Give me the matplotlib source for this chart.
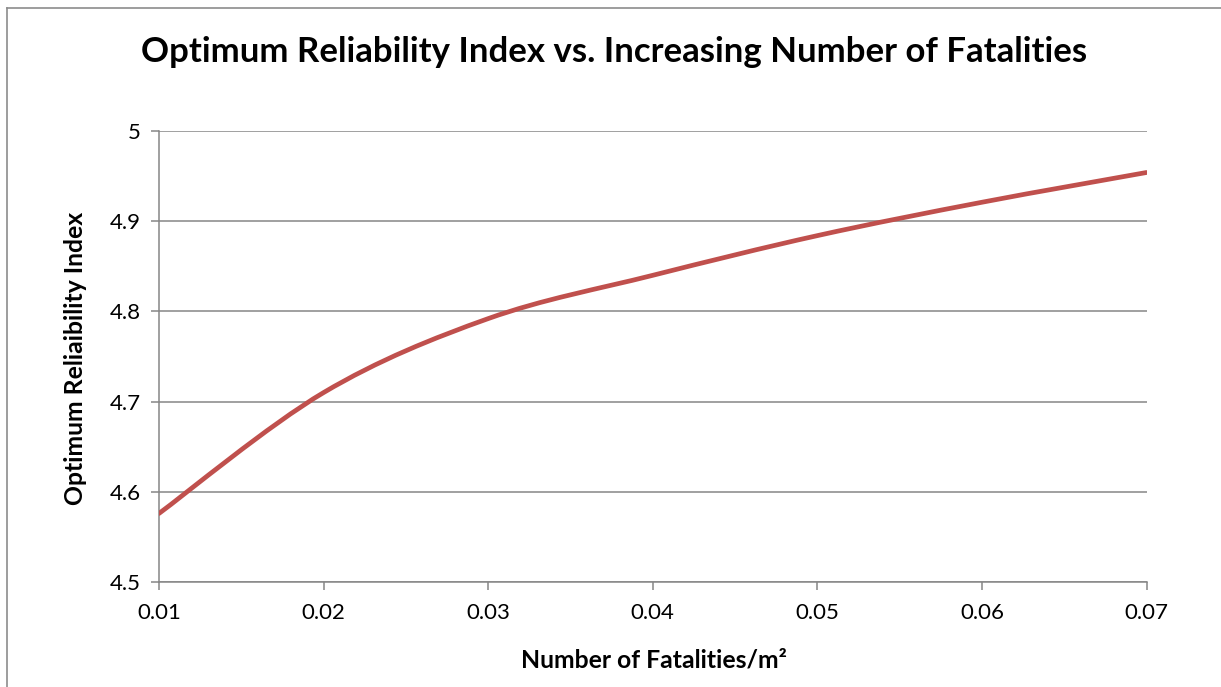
import numpy as np
import matplotlib
matplotlib.use("Agg")
import matplotlib.pyplot as plt
from matplotlib.path import Path
from matplotlib.patches import PathPatch
from matplotlib.lines import Line2D

# Optimum reliability index for each fatality density
fatalities = [0.01, 0.02, 0.03, 0.04, 0.05, 0.06, 0.07]
reliability = [4.576, 4.710, 4.792, 4.840, 4.884, 4.921, 4.954]
x_ticks = [0.01, 0.02, 0.03, 0.04, 0.05, 0.06, 0.07]
x_tick_labels = ["0.01", "0.02", "0.03", "0.04", "0.05", "0.06", "0.07"]
y_ticks = [4.5, 4.6, 4.7, 4.8, 4.9, 5.0]
y_tick_labels = ["4.5", "4.6", "4.7", "4.8", "4.9", "5"]

FONT = "Lato"
LINE_RED = "#C0504D"
GRID_GREY = "#868686"

plt.rcParams["font.family"] = [FONT, "DejaVu Sans"]

W, H = 1221, 687
fig = plt.figure(figsize=(W / 100, H / 100), dpi=100)
fig.patch.set_facecolor("white")

# chart-area frame: left and top edges
frame_x = 6.5 / W
frame_y = 1 - 7.5 / H
fig.add_artist(Line2D([frame_x, frame_x], [0, frame_y], transform=fig.transFigure,
                      color="#8c8c8c", linewidth=1.2))
fig.add_artist(Line2D([frame_x, 1], [frame_y, frame_y], transform=fig.transFigure,
                      color="#8c8c8c", linewidth=1.2))

ax = fig.add_axes([159 / W, 1 - 582 / H, (1146.5 - 159) / W, (582 - 131) / H])
ax.set_xlim(0.01, 0.07)
ax.set_ylim(4.5, 5.0)


def smooth_path(xs, ys):
    """Cubic Bezier segments through the points (spreadsheet-style smoothing)."""
    pts = np.column_stack([xs, ys])
    n = len(pts)
    verts = [pts[0]]
    codes = [Path.MOVETO]
    for i in range(n - 1):
        p0 = pts[i - 1] if i > 0 else pts[i]
        p1 = pts[i]
        p2 = pts[i + 1]
        p3 = pts[i + 2] if i + 2 < n else pts[i + 1]
        c1 = p1 + (p2 - p0) / 6.0
        c2 = p2 - (p3 - p1) / 6.0
        verts += [c1, c2, p2]
        codes += [Path.CURVE4] * 3
    return Path(verts, codes)


ax.add_patch(PathPatch(smooth_path(fatalities, reliability), facecolor="none",
                       edgecolor=LINE_RED, linewidth=3.4, capstyle="round",
                       joinstyle="round", zorder=3))

ax.set_xticks(x_ticks)
ax.set_xticklabels(x_tick_labels)
ax.set_yticks(y_ticks)
ax.set_yticklabels(y_tick_labels)

ax.grid(axis="y", color=GRID_GREY, linewidth=1.1)
ax.set_axisbelow(True)
for side in ("top", "right"):
    ax.spines[side].set_visible(False)
for side in ("left", "bottom"):
    ax.spines[side].set_color(GRID_GREY)
    ax.spines[side].set_linewidth(1.1)

ax.tick_params(axis="both", direction="out", length=6, width=1.1,
               color=GRID_GREY, labelsize=16, labelcolor="black")
ax.tick_params(axis="x", pad=9)
ax.tick_params(axis="y", pad=7)

fig.text(614 / W, 1 - 52 / H, "Optimum Reliability Index vs. Increasing Number of Fatalities",
         ha="center", va="center", fontsize=25, fontweight="bold")
fig.text(654 / W, 1 - 660 / H, "Number of Fatalities/m²", ha="center", va="center",
         fontsize=17.8, fontweight="bold")
fig.text(76 / W, 1 - 358 / H, "Optimum Reliaibility Index", ha="center", va="center",
         rotation=90, fontsize=17.8, fontweight="bold")

fig.savefig("out.png", dpi=100, facecolor="white")
